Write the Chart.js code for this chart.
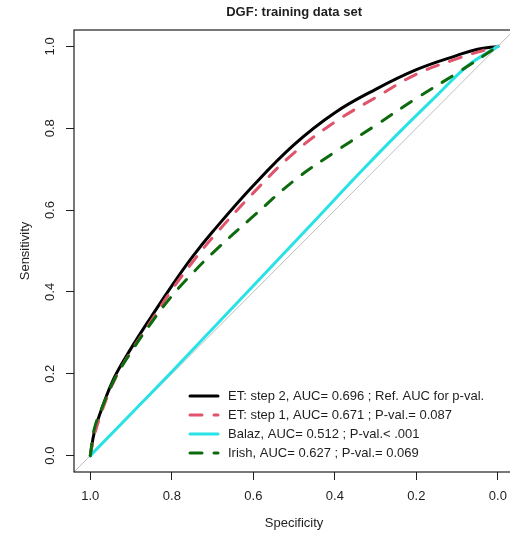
<!DOCTYPE html>
<html>
<head>
<meta charset="utf-8">
<title>DGF: training data set</title>
<script src="https://cdn.jsdelivr.net/npm/chart.js@4/dist/chart.umd.min.js"></script>
<style>
  html, body { margin: 0; padding: 0; background: #fff; }
  #wrap { width: 510px; height: 535px; overflow: hidden; }
</style>
</head>
<body>
<div id="wrap"><canvas id="roc" width="516" height="535"></canvas></div>
<script>
// tick labels
const specTicks = [1.0, 0.8, 0.6, 0.4, 0.2, 0.0];
const sensTicks = [0.0, 0.2, 0.4, 0.6, 0.8, 1.0];

// ET: step 2 (AUC 0.696)
const step2Spec = [1.00, 0.99, 0.97, 0.94, 0.90, 0.85, 0.80, 0.75, 0.70, 0.60, 0.50, 0.40, 0.30, 0.20, 0.10, 0.05, 0.00];
const step2Sens = [0.000, 0.058, 0.120, 0.193, 0.262, 0.340, 0.415, 0.485, 0.547, 0.660, 0.760, 0.838, 0.895, 0.943, 0.978, 0.993, 1.000];

// ET: step 1 (AUC 0.671)
const step1Spec = [1.00, 0.99, 0.97, 0.94, 0.90, 0.85, 0.80, 0.75, 0.70, 0.60, 0.50, 0.40, 0.30, 0.20, 0.10, 0.05, 0.00];
const step1Sens = [0.000, 0.050, 0.113, 0.186, 0.255, 0.330, 0.405, 0.472, 0.533, 0.642, 0.740, 0.815, 0.875, 0.932, 0.970, 0.986, 1.000];

// Balaz (AUC 0.512)
const balazSpec = [1.000, 0.800, 0.700, 0.600, 0.469, 0.340, 0.247, 0.150, 0.071, 0.000];
const balazSens = [0.000, 0.205, 0.310, 0.415, 0.553, 0.690, 0.785, 0.880, 0.955, 1.000];

// Irish (AUC 0.627)
const irishSpec = [1.00, 0.99, 0.97, 0.94, 0.90, 0.85, 0.80, 0.75, 0.70, 0.60, 0.50, 0.40, 0.30, 0.20, 0.10, 0.00];
const irishSens = [0.000, 0.066, 0.120, 0.188, 0.253, 0.325, 0.390, 0.445, 0.495, 0.585, 0.672, 0.742, 0.807, 0.873, 0.935, 1.000];

// chance line across the whole plot region
const chanceSens = [-0.04, 1.04];
const chanceSpec = chanceSens.map(v => 1 - v);

const labels = [
  'ET: step 2, AUC= 0.696 ; Ref. AUC for p-val.',
  'ET: step 1, AUC= 0.671 ; P-val.= 0.087',
  'Balaz, AUC= 0.512 ; P-val.< .001',
  'Irish, AUC= 0.627 ; P-val.= 0.069'
];

function pts(xs, ys) {
  return xs.map((x, i) => ({ x: x, y: ys[i] }));
}

const FONT = '"Liberation Sans", Arial, sans-serif';
const INK = '#1e1e1e';

const boxPlugin = {
  id: 'box',
  afterDraw(chart) {
    const a = chart.chartArea;
    const ctx = chart.ctx;
    ctx.save();
    ctx.strokeStyle = INK;
    ctx.lineWidth = 1.2;
    ctx.strokeRect(a.left, a.top, a.right - a.left, a.bottom - a.top);
    ctx.restore();
  }
};

const legendPlugin = {
  id: 'rocLegend',
  afterDraw(chart, args, opts) {
    const ctx = chart.ctx;
    ctx.save();
    ctx.font = '13px ' + FONT;
    ctx.textBaseline = 'middle';
    ctx.textAlign = 'left';
    for (let i = 0; i < 4; i++) {
      const ds = chart.data.datasets[i];
      const y = opts.y + i * opts.gap;
      ctx.beginPath();
      ctx.setLineDash(ds.borderDash || []);
      ctx.lineCap = 'round';
      ctx.lineWidth = ds.borderWidth;
      ctx.strokeStyle = ds.borderColor;
      ctx.moveTo(opts.x, y);
      ctx.lineTo(opts.x + opts.len, y);
      ctx.stroke();
      ctx.setLineDash([]);
      ctx.fillStyle = INK;
      ctx.fillText(ds.label, opts.x + opts.len + 10, y);
    }
    ctx.restore();
  }
};

const lineBase = {
  showLine: true,
  pointRadius: 0,
  pointHoverRadius: 0,
  borderWidth: 3,
  fill: false,
  tension: 0.4,
  borderCapStyle: 'round'
};

new Chart(document.getElementById('roc'), {
  type: 'scatter',
  data: {
    datasets: [
      Object.assign({}, lineBase, { label: labels[0], data: pts(step2Spec, step2Sens), borderColor: '#000000', order: 3 }),
      Object.assign({}, lineBase, { label: labels[1], data: pts(step1Spec, step1Sens), borderColor: '#DF536B', borderDash: [12, 12], order: 2 }),
      Object.assign({}, lineBase, { label: labels[2], data: pts(balazSpec, balazSens), borderColor: '#28E2E5', order: 1 }),
      Object.assign({}, lineBase, { label: labels[3], data: pts(irishSpec, irishSens), borderColor: '#0d6b0d', borderDash: [12, 12], order: 0 }),
      { label: 'chance', data: pts(chanceSpec, chanceSens), showLine: true, pointRadius: 0, borderWidth: 1, borderColor: '#bdbdbd', order: 4, clip: 0 }
    ]
  },
  options: {
    responsive: false,
    animation: false,
    devicePixelRatio: 1,
    layout: { padding: 0 },
    plugins: {
      legend: { display: false },
      tooltip: { enabled: false },
      title: {
        display: true,
        fullSize: false,
        text: 'DGF: training data set',
        color: INK,
        font: { family: FONT, size: 13, weight: 'bold' },
        padding: { top: 5, bottom: 9.4 }
      },
      rocLegend: { x: 190, y: 396, gap: 19, len: 28 }
    },
    scales: {
      x: {
        type: 'linear',
        reverse: true,
        min: -0.04,
        max: 1.04,
        afterBuildTicks: s => { s.ticks = specTicks.map(v => ({ value: v })); },
        afterFit: s => { s.height = 63; },
        border: { display: false },
        grid: { display: true, drawOnChartArea: false, drawTicks: true, tickLength: 8, color: INK, lineWidth: 1 },
        ticks: {
          color: INK, font: { family: FONT, size: 13 }, padding: 9,
          maxRotation: 0, autoSkip: false,
          callback: v => v.toFixed(1)
        },
        title: { display: true, text: 'Specificity', color: INK, font: { family: FONT, size: 13 }, padding: { bottom: 4, top: 0 } }
      },
      y: {
        type: 'linear',
        min: -0.04,
        max: 1.04,
        afterBuildTicks: s => { s.ticks = sensTicks.map(v => ({ value: v })); },
        afterFit: s => { s.width = 74; },
        border: { display: false },
        grid: { display: true, drawOnChartArea: false, drawTicks: true, tickLength: 8, color: INK, lineWidth: 1 },
        ticks: {
          color: INK, font: { family: FONT, size: 13 }, padding: 7,
          minRotation: 90, maxRotation: 90, crossAlign: 'center', autoSkip: false,
          callback: v => v.toFixed(1)
        },
        title: { display: true, text: 'Sensitivity', color: INK, font: { family: FONT, size: 13 }, padding: { top: 18, bottom: 0 } }
      }
    }
  },
  plugins: [boxPlugin, legendPlugin]
});
</script>
</body>
</html>
